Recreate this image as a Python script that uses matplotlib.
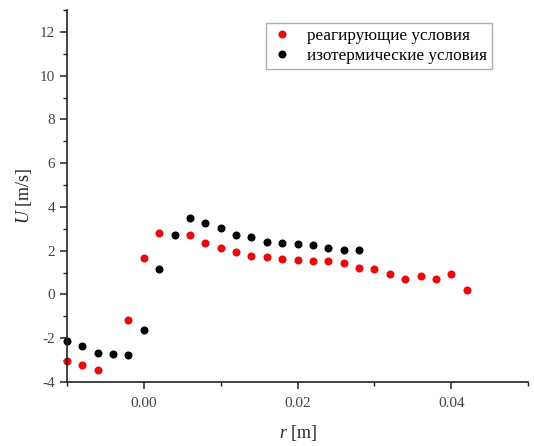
import matplotlib
matplotlib.use("Agg")
import matplotlib.pyplot as plt
from matplotlib.ticker import MultipleLocator, FormatStrFormatter

plt.rcParams['font.family'] = ['Liberation Serif', 'DejaVu Serif']
plt.rcParams['mathtext.fontset'] = 'custom'
plt.rcParams['mathtext.it'] = 'Liberation Serif:italic'
plt.rcParams['mathtext.rm'] = 'Liberation Serif'

r_react = [-0.010, -0.008, -0.006, -0.002, 0.000, 0.002, 0.006, 0.008, 0.010, 0.012,
           0.014, 0.016, 0.018, 0.020, 0.022, 0.024, 0.026, 0.028, 0.030, 0.032,
           0.034, 0.036, 0.038, 0.040, 0.042]
u_react = [-3.04, -3.23, -3.46, -1.16, 1.66, 2.79, 2.71, 2.36, 2.13, 1.95,
           1.77, 1.70, 1.64, 1.57, 1.55, 1.54, 1.43, 1.23, 1.18, 0.95,
           0.69, 0.86, 0.71, 0.92, 0.19]

r_iso = [-0.010, -0.008, -0.006, -0.004, -0.002, 0.000, 0.002, 0.004, 0.006, 0.008,
         0.010, 0.012, 0.014, 0.016, 0.018, 0.020, 0.022, 0.024, 0.026, 0.028]
u_iso = [-2.12, -2.34, -2.68, -2.73, -2.75, -1.63, 1.18, 2.74, 3.51, 3.28,
         3.06, 2.71, 2.64, 2.41, 2.35, 2.31, 2.24, 2.13, 2.04, 2.04]

label_react = "реагирующие условия"
label_iso = "изотермические условия"

fig = plt.figure(figsize=(5.34, 4.46), dpi=100)
ax = fig.add_axes([0.1255, 0.1435, 0.8635, 0.834])

ax.plot(r_react, u_react, 'o', color='#e8090c', markersize=5.8, label=label_react,
        markeredgewidth=0, clip_on=False)
ax.plot(r_iso, u_iso, 'o', color='black', markersize=5.8, label=label_iso,
        markeredgewidth=0, clip_on=False)

ax.set_xlim(-0.01, 0.05)
ax.set_ylim(-4, 13)
ax.xaxis.set_major_locator(MultipleLocator(0.02))
ax.xaxis.set_minor_locator(MultipleLocator(0.01))
ax.yaxis.set_minor_locator(MultipleLocator(1))
ax.xaxis.set_major_formatter(FormatStrFormatter('%.2f'))
ax.set_yticks(range(-4, 13, 2))
ax.set_yticklabels([str(v) for v in range(-4, 13, 2)])

for s in ['top', 'right']:
    ax.spines[s].set_visible(False)
for s in ['left', 'bottom']:
    ax.spines[s].set_linewidth(1.2)
    ax.spines[s].set_color('#222222')

ax.tick_params(which='major', direction='out', length=5, width=1.1, labelsize=11,
               colors='#222222', labelcolor='#444444')
ax.tick_params(which='minor', direction='out', length=3, width=1.0, colors='#222222')
ax.tick_params(axis='x', pad=6)

ax.set_xlabel(r'$\mathit{r}$ [m]', fontsize=13, labelpad=9, color='#222222')
ax.set_ylabel(r'$\mathit{U}$ [m/s]', fontsize=13, labelpad=4, color='#222222')

leg = ax.legend(loc='upper left', bbox_to_anchor=(0.432, 0.966), fontsize=12.3,
                frameon=True, fancybox=False, edgecolor='#999999',
                handletextpad=0.9, borderpad=0.3, labelspacing=0.22,
                handlelength=1.2, numpoints=1, borderaxespad=0)
leg.get_frame().set_linewidth(1.0)

fig.savefig('out.png', dpi=100)
